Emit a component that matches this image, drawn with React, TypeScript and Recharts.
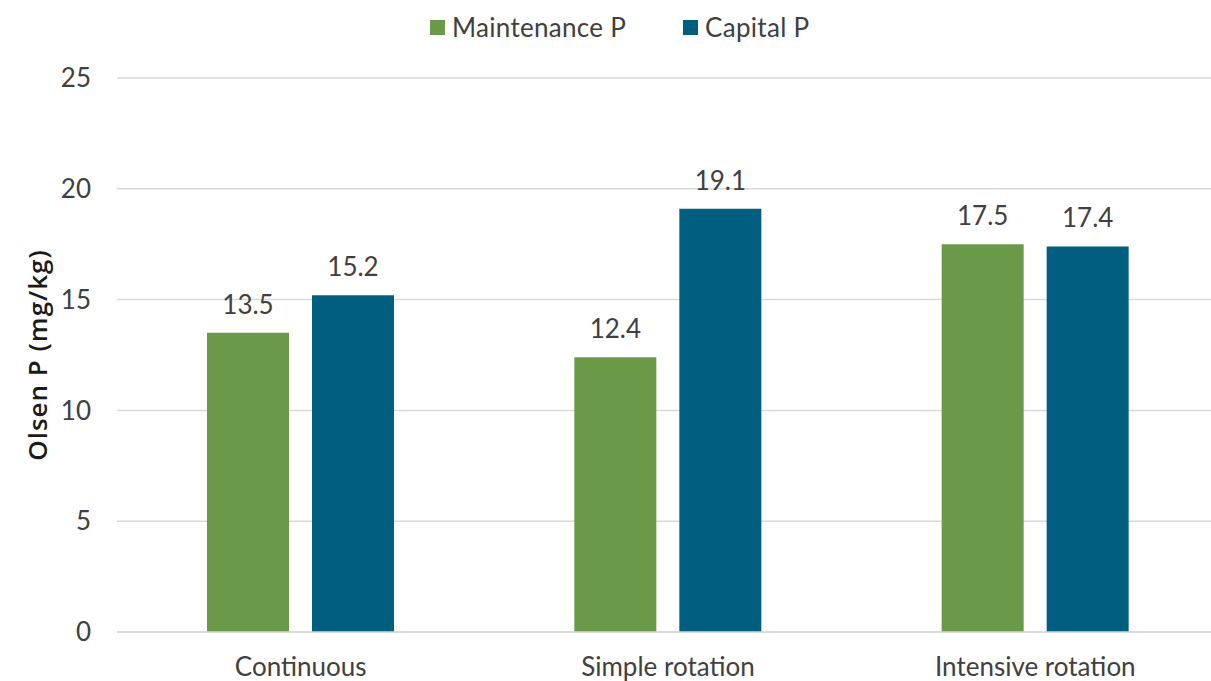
import React from 'react';
import {
  BarChart,
  Bar,
  XAxis,
  YAxis,
  CartesianGrid,
  Legend,
  LabelList,
} from 'recharts';

const categories = ['Continuous', 'Simple rotation', 'Intensive rotation'];
const maintenanceP = [13.5, 12.4, 17.5];
const capitalP = [15.2, 19.1, 17.4];
const yTicks = [0, 5, 10, 15, 20, 25];

const GREEN = '#6a9a48';
const BLUE = '#005f7f';
const TEXT = '#404040';
const FONT = 'Lato, "Open Sans", sans-serif';

const data = categories.map((name, i) => ({
  name,
  maintenance: maintenanceP[i],
  capital: capitalP[i],
}));

const legendItems = [
  { label: 'Maintenance P', color: GREEN, left: 430 },
  { label: 'Capital P', color: BLUE, left: 683 },
];

function TopLegend() {
  return (
    <div style={{ position: 'relative', width: 1222, height: 40 }}>
      {legendItems.map((item) => (
        <div
          key={item.label}
          style={{
            position: 'absolute',
            left: item.left,
            top: 14,
            height: 26,
            display: 'flex',
            alignItems: 'center',
            fontFamily: FONT,
            fontSize: 26,
            color: TEXT,
            whiteSpace: 'nowrap',
          }}
        >
          <span
            style={{
              display: 'inline-block',
              width: 15,
              height: 15,
              background: item.color,
              marginRight: 7,
            }}
          />
          <span style={{ lineHeight: '26px', letterSpacing: 0.3 }}>{item.label}</span>
        </div>
      ))}
    </div>
  );
}

export default function App() {
  return (
    <div
      style={{
        position: 'absolute',
        left: 0,
        top: 0,
        width: 1211,
        height: 681,
        overflow: 'hidden',
        background: '#fff',
      }}
    >
      <BarChart
        width={1222}
        height={681}
        data={data}
        margin={{ top: 38, right: 3, left: 0, bottom: 0 }}
        barGap={23}
        barSize={82}
      >
        <CartesianGrid vertical={false} stroke="#d9d9d9" strokeWidth={1.5} />
        <XAxis
          dataKey="name"
          height={49}
          tickLine={false}
          axisLine={{ stroke: '#d9d9d9', strokeWidth: 1.5 }}
          tickMargin={20}
          tick={{ fill: TEXT, fontSize: 26, fontFamily: FONT }}
        />
        <YAxis
          width={117}
          domain={[0, 25]}
          ticks={yTicks}
          tickLine={false}
          axisLine={false}
          tickMargin={20}
          tick={{ fill: TEXT, fontSize: 26, fontFamily: FONT }}
          label={{
            value: 'Olsen P (mg/kg)',
            angle: -90,
            position: 'center',
            dx: -21,
            style: {
              fill: '#1a1a1a',
              fontSize: 26,
              fontWeight: 600,
              fontFamily: '"Open Sans", sans-serif',
              letterSpacing: 1,
            },
          }}
        />
        <Legend verticalAlign="top" wrapperStyle={{ left: 0, top: 0 }} content={() => <TopLegend />} />
        <Bar dataKey="maintenance" name="Maintenance P" fill={GREEN} isAnimationActive={false}>
          <LabelList
            dataKey="maintenance"
            position="top"
            offset={19}
            style={{ fill: TEXT, fontSize: 26, fontFamily: FONT }}
          />
        </Bar>
        <Bar dataKey="capital" name="Capital P" fill={BLUE} isAnimationActive={false}>
          <LabelList
            dataKey="capital"
            position="top"
            offset={19}
            style={{ fill: TEXT, fontSize: 26, fontFamily: FONT }}
          />
        </Bar>
      </BarChart>
    </div>
  );
}
